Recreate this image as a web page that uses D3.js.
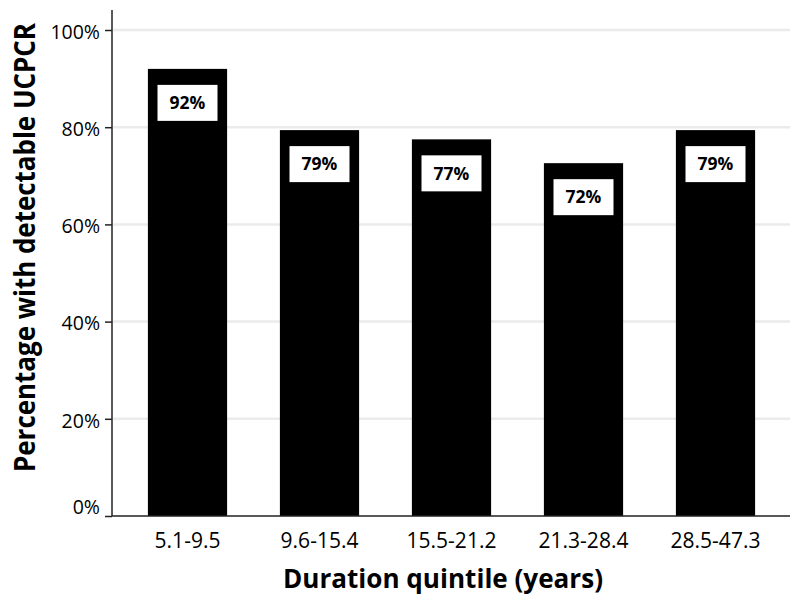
<!DOCTYPE html>
<html>
<head>
<meta charset="utf-8">
<script src="https://cdn.jsdelivr.net/npm/d3@7"></script>
<style>
  html, body { margin: 0; padding: 0; background: #fff; }
  svg { display: block; font-family: "Open Sans", "Noto Sans", sans-serif; }
</style>
</head>
<body>
<svg id="chart" width="800" height="602"></svg>
<script>
// chart values
const quintiles = ["5.1-9.5", "9.6-15.4", "15.5-21.2", "21.3-28.4", "28.5-47.3"];
const pctDetectable = [92.0, 79.4, 77.5, 72.6, 79.4];
const barLabels = ["92%", "79%", "77%", "72%", "79%"];
const yTicks = [0, 20, 40, 60, 80, 100];

const svg = d3.select("#chart");
const plotL = 112, plotR = 790, plotB = 516, plotT = 30;

const x = d3.scaleBand()
  .domain(quintiles)
  .range([121.5, 781.5])
  .paddingInner(0.4)
  .paddingOuter(0.2);

const y = d3.scaleLinear().domain([0, 100]).range([plotB, plotT]);

// light grid
svg.append("g")
  .selectAll("line")
  .data(yTicks.filter((d) => d > 0))
  .join("line")
  .attr("x1", plotL + 1)
  .attr("x2", plotR)
  .attr("y1", (d) => y(d))
  .attr("y2", (d) => y(d))
  .attr("stroke", "#ebebeb")
  .attr("stroke-width", 2.5);

// bars
svg.append("g")
  .selectAll("rect")
  .data(quintiles)
  .join("rect")
  .attr("x", (d) => x(d))
  .attr("width", x.bandwidth())
  .attr("y", (d, i) => y(pctDetectable[i]))
  .attr("height", (d, i) => plotB - y(pctDetectable[i]))
  .attr("fill", "#000");

// value boxes inside bars
const lab = svg.append("g")
  .selectAll("g")
  .data(quintiles)
  .join("g")
  .attr("transform", (d, i) =>
    `translate(${x(d) + x.bandwidth() / 2},${y(pctDetectable[i]) + 34})`);

lab.append("rect")
  .attr("x", -30)
  .attr("y", -18)
  .attr("width", 60)
  .attr("height", 36)
  .attr("fill", "#fff");

lab.append("text")
  .attr("text-anchor", "middle")
  .attr("dy", "0.36em")
  .attr("font-size", 17.5)
  .attr("font-weight", "bold")
  .attr("fill", "#000")
  .text((d, i) => barLabels[i]);

// y axis
const yAxis = svg.append("g")
  .attr("transform", `translate(${plotL},0)`)
  .call(d3.axisLeft(y).tickValues(yTicks).tickFormat((d) => d + "%").tickSize(7).tickPadding(5));
yAxis.attr("font-family", null).attr("font-size", 19.5);
yAxis.select(".domain").remove();
yAxis.selectAll(".tick line").attr("stroke", "#222").attr("stroke-width", 1.5);
yAxis.selectAll(".tick text")
  .attr("fill", "#000")
  .attr("dy", (d) => (d === 0 ? "-0.15em" : "0.42em"));

svg.append("line")
  .attr("x1", plotL).attr("x2", plotL)
  .attr("y1", 10).attr("y2", plotB)
  .attr("stroke", "#222").attr("stroke-width", 1.5);

// x axis
const xAxis = svg.append("g")
  .attr("transform", `translate(0,${plotB})`)
  .call(d3.axisBottom(x).tickSize(0));
xAxis.attr("font-family", null).attr("font-size", 21);
xAxis.select(".domain").remove();
xAxis.selectAll(".tick text")
  .attr("fill", "#000")
  .attr("y", 32)
  .attr("dy", null);

svg.append("line")
  .attr("x1", plotL).attr("x2", plotR)
  .attr("y1", plotB).attr("y2", plotB)
  .attr("stroke", "#222").attr("stroke-width", 1.5);

// titles (reference font is condensed, so squeeze to its length)
svg.append("text")
  .attr("x", 443)
  .attr("y", 588)
  .attr("text-anchor", "middle")
  .attr("font-size", 27)
  .attr("font-weight", "bold")
  .attr("textLength", 320)
  .attr("lengthAdjust", "spacingAndGlyphs")
  .text("Duration quintile (years)");

svg.append("text")
  .attr("transform", "translate(34.5,247.5) rotate(-90)")
  .attr("text-anchor", "middle")
  .attr("font-size", 28)
  .attr("font-weight", "bold")
  .attr("textLength", 449)
  .attr("lengthAdjust", "spacingAndGlyphs")
  .text("Percentage with detectable UCPCR");
</script>
</body>
</html>
